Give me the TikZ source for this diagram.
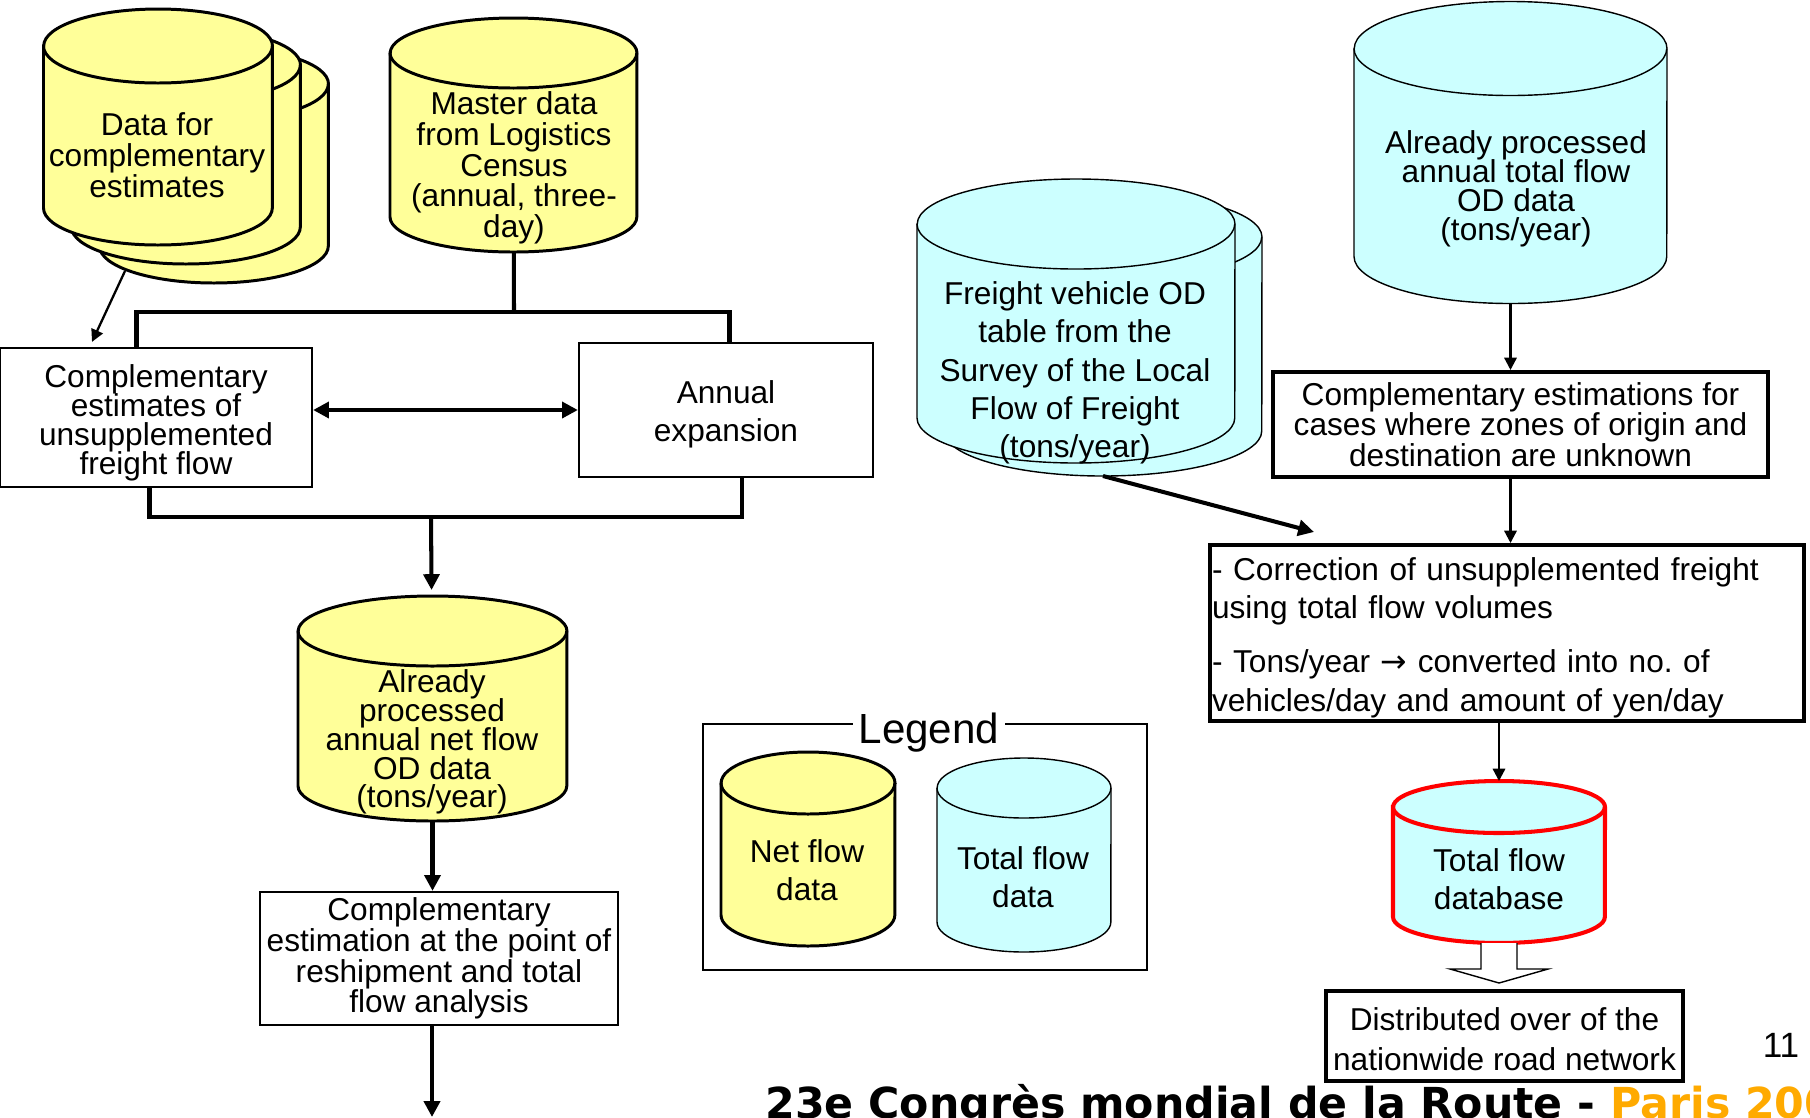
\documentclass[tikz,border=0pt]{standalone}
\usepackage{fontspec}
\setmainfont{Liberation Sans}
\newfontfamily\arrowfont{DejaVu Sans}
\newfontfamily\footfont{DejaVu Sans}
\usetikzlibrary{
  arrows.meta,
  calc,
  positioning
}
\definecolor{netyellow}{HTML}{FFFF99}
\definecolor{totalcyan}{HTML}{CCFFFF}
\definecolor{parisorange}{HTML}{FFAA00}
\tikzset{
%
  % For heavy lines.
  line/.style={
    line width=2.3pt},
%
  % For thin lines.
  thin line/.style={
    line width=1.3pt},
%
  % For hairlines.
  hair line/.style={
    line width=0.8pt},
%
  % For the step 'A goes on to B'.
  flow/.style={
    line,
    -{Triangle[length=9pt,
               width=9pt]}},
%
  % For the same step, drawn thinner.
  thin flow/.style={
    thin line,
    -{Triangle[length=7pt,
               width=7pt]}},
%
  % For 'A and B work on each other'.
  both ways/.style={
    line,
    {Triangle[length=9pt,
              width=9pt]}-{Triangle[length=9pt,
                                    width=9pt]}},
%
  % For boxes in general.
  box/.style={
    thin line,
    draw,
    inner sep=1pt},
%
  % For boxes with a heavy frame.
  heavy box/.style={
    box,
    line},
%
  % For a data set drawn as a can:
  % width, height and radius of its ends, in pixels.
  pics/can/.style n args={3}{
    code={
      \path[pic actions]
        (-#1/2,-#2/2+#3) -- (-#1/2,#2/2-#3)
        arc[start angle=180, end angle=360,
            x radius=#1*0.01cm, y radius=#3*0.02cm]
        -- (#1/2,-#2/2+#3)
        arc[start angle=0, end angle=180,
            x radius=#1*0.01cm, y radius=#3*0.02cm]
        -- cycle;
      \path[pic actions, fill=none]
        (-#1/2,-#2/2+#3)
        arc[start angle=180, end angle=360,
            x radius=#1*0.01cm, y radius=#3*0.02cm];
      \node[inner sep=0pt, outer sep=0pt,
            minimum width=#1*0.02cm,
            minimum height=#2*0.02cm] (-db) {};
    }},
%
  % For net flow data.
  net db/.style={
    draw,
    line width=1.7pt,
    fill=netyellow},
%
  % For total flow data.
  total db/.style={
    draw,
    hair line,
    fill=totalcyan},
%
  % For texts, by their line spacing.
  tight/.style={
    align=center,
    font={\fontsize{18pt}{16.4pt}\selectfont\lineskiplimit=-30pt}},
  snug/.style={
    align=center,
    font={\fontsize{18pt}{17.5pt}\selectfont\lineskiplimit=-30pt}},
  loose/.style={
    align=center,
    font={\fontsize{18pt}{21.8pt}\selectfont\lineskiplimit=-30pt}}
}

\begin{document}
\begin{tikzpicture}[x=0.02cm, y=-0.02cm]
  \useasboundingbox (0,0) rectangle (1810,1117);

  % net flow side
  \pic[net db] (cdata3) at (214,165) {can={229}{236}{37}};
  \pic[net db] (cdata2) at (186,146) {can={229}{236}{37}};
  \pic[net db] (cdata) at (158,127) {can={229}{236}{37}};
  \node[snug] (cdataT) at (157,155) {Data for\\complementary\\estimates};

  \pic[net db] (master) at (513.5,135) {can={247}{234}{35}};
  \node[snug] (masterT) at (514,168) {Master data\\from Logistics\\Census\\(annual, three-\\day)};

  \node[box, minimum width=6.24cm, minimum height=2.78cm] (cest) at (156,417.5) {};
  \node[tight] (cestT) at (156,423)
    {Complementary\\estimates of\\unsupplemented\\freight flow};
  \node[box, minimum width=5.88cm, minimum height=2.68cm] (annual) at (726,410) {};
  \node[loose] (annualT) at (726,414.5) {Annual\\expansion};

  \pic[net db] (netflow) at (432.5,708.5) {can={269}{225}{35}};
  \node[tight] (netflowT) at (432,742) {Already\\processed\\annual net flow\\OD data\\(tons/year)};

  \node[box, snug, minimum width=7.16cm, minimum height=2.66cm] (reship) at (439,958.5)
    {Complementary\\estimation at the point of\\reshipment and total\\flow analysis};

  % total flow side
  \pic[total db] (fod2) at (1103,334) {can={318}{284}{45}};
  \pic[total db] (fod) at (1076,321) {can={318}{284}{45}};
  \node[loose] (fodT) at (1075,373)
    {Freight vehicle OD\\table from the\\Survey of the Local\\Flow of Freight\\(tons/year)};

  \pic[total db] (totod) at (1510.5,152.5) {can={313}{302}{47}};
  \node[tight] (totodT) at (1516,189) {Already processed\\annual total flow\\OD data\\(tons/year)};

  \node[heavy box, snug, minimum width=9.9cm, minimum height=2.1cm] (unk) at (1520.5,424.5)
    {Complementary estimations for\\cases where zones of origin and\\destination are unknown};

  \node[heavy box, minimum width=11.88cm, minimum height=3.52cm] (corr) at (1507,633) {};
  \node[loose, align=left, text width=11.8cm] (corrT) at (1507,637.5)
    {- Correction of unsupplemented freight\\using total flow volumes\\[9pt]
     - Tons/year {\arrowfont →} converted into no.\ of\\vehicles/day and amount of yen/day};

  \pic[total db, draw=red, line width=2.3pt] (dbase) at (1499,862) {can={212}{162}{26}};
  \node[loose] (dbaseT) at (1499,879) {Total flow\\database};

  \node[heavy box, minimum width=7.14cm, minimum height=1.8cm] (dist) at (1504.5,1036) {};
  \node[align=center, font=\fontsize{18pt}{23pt}\selectfont] (distT) at (1504.5,1039)
    {Distributed over of the\\nationwide road network};

  % legend
  \node[draw, line width=1pt, minimum width=8.88cm, minimum height=4.92cm] (legend) at (925,847) {};
  \node[fill=white, inner xsep=3pt, inner ysep=0pt, anchor=base,
        font=\fontsize{24pt}{27pt}\selectfont] (legendT) at (929,743) {Legend};
  \pic[net db] (lnet) at (808,849) {can={174}{194}{31}};
  \node[loose] (lnetT) at (807,870) {Net flow\\data};
  \pic[total db] (ltot) at (1024,855) {can={174}{194}{30}};
  \node[loose] (ltotT) at (1023,877) {Total flow\\data};

  % page footer
  \node[font=\fontsize{20pt}{22pt}\selectfont] (page) at (1781,1045) {11};
  \node[anchor=base west, inner sep=0pt,
        font=\footfont\bfseries\fontsize{24.3pt}{28pt}\selectfont] (footer) at (765,1118)
    {23e Congrès mondial de la Route - \textcolor{parisorange}{Paris 2007}};

  % connectors
  \coordinate (split) at (514,312);
  \coordinate (merge) at (431,517);
  \coordinate (exit) at (432,1117);

  \draw[thin flow] ($(cdata3-db.center)+(-89,106)$) -- ([xshift=-1.28cm,yshift=0.1cm]cest.north);
  \draw[line] (master-db) -- (split);
  \draw[line] ([xshift=-0.39cm]cest.north) |- (split) -| ([xshift=0.07cm]annual.north);
  \draw[both ways] (cest.east |- annual.west) -- (annual.west);
  \draw[line] ([xshift=-0.13cm]cest.south) |- (merge) -| ([xshift=0.32cm]annual.south);
  \draw[flow, shorten >=0.12cm] (merge) -- (netflow-db);
  \draw[flow] (netflow-db) -- (netflow-db |- reship.north);
  \draw[flow] (reship.south -| exit) -- (exit);

  \draw[flow] (fod2-db.south) -- ([xshift=-3.86cm,yshift=0.22cm]corr.north);
  \draw[thin flow] (totod-db) -- (totod-db |- unk.north);
  \draw[thin flow] (unk.south -| totod-db) -- (corr.north -| totod-db);
  \draw[thin flow] (corr.south -| dbase-db) -- (dbase-db);
  \draw[hair line, fill=white] ([xshift=-0.36cm]dbase-db.south) -- ++(0,26) -- ++(-31,0)
    -- ++(49,14) -- ++(49,-14) -- ++(-31,0) -- ++(0,-26);
\end{tikzpicture}
\end{document}
